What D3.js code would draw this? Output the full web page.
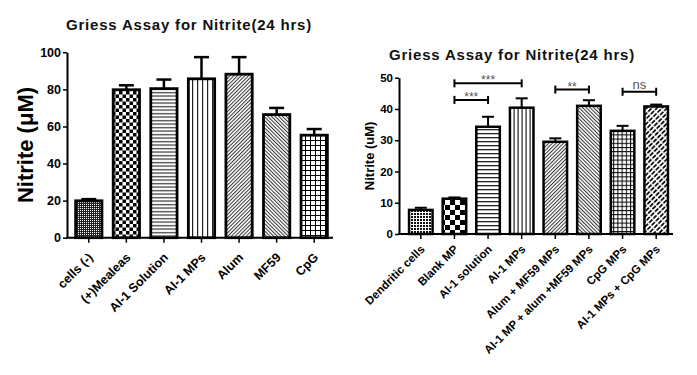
<!DOCTYPE html>
<html lang="en">
<head>
<meta charset="utf-8">
<title>griess</title>
<script src="https://cdn.jsdelivr.net/npm/d3@7"></script>
<style>
body { margin: 0; background: #fff; }
text { font-family: Arial, "Liberation Sans", sans-serif; }
</style>
</head>
<body>
<script>
// left panel
var leftCats = ["cells (-)", "(+)Mealeas", "AI-1 Solution", "AI-1 MPs", "Alum", "MF59", "CpG"];
var leftVals = [19.9, 79.8, 80.4, 85.7, 88.2, 66.4, 55.3];
var leftSem = [0.9, 2.4, 4.9, 11.7, 9.2, 3.6, 3.3];
var leftFills = ["dotsL", "checkL", "hlinesL", "vlinesL", "diagR", "diagL", "gridL"];
var leftTicks = [0, 20, 40, 60, 80, 100];

// right panel
var rightCats = ["Dendritic cells", "Blank MP", "AI-1 solution", "AI-1 MPs", "Alum + MF59 MPs",
                 "AI-1 MP + alum +MF59 MPs", "CpG MPs", "AI-1 MPs + CpG MPs"];
var rightVals = [7.7, 11.3, 34.3, 40.4, 29.5, 41.0, 33.0, 40.8];
var rightSem = [0.7, 0.4, 3.2, 3.0, 1.1, 1.8, 1.6, 0.6];
var rightFills = ["dotsR", "checkR", "hlinesR", "vlinesR", "diagR", "diagL", "gridR", "diagBold"];
var rightTicks = [0, 10, 20, 30, 40, 50];

// significance brackets (right panel)
var sigLabels = ["***", "***", "**", "ns"];
var sigFrom = [1, 1, 4, 6];
var sigTo = [2, 3, 5, 7];
var sigLevel = [42.9, 48.2, 46.2, 45.5];

var title = "Griess Assay for Nitrite(24 hrs)";

var width = 697, height = 375;
var svg = d3.select("body").append("svg")
    .attr("width", width)
    .attr("height", height);
var defs = svg.append("defs");

// ---- fill patterns ----
function pattern(id, w, h, rot) {
  var p = defs.append("pattern")
      .attr("id", id)
      .attr("patternUnits", "userSpaceOnUse")
      .attr("width", w).attr("height", h);
  if (rot) p.attr("patternTransform", "rotate(" + rot + ")");
  p.append("rect").attr("width", w).attr("height", h).attr("fill", "#fff");
  return p;
}
var p;
p = pattern("dotsL", 2, 2);
p.append("rect").attr("width", 2).attr("height", 2).attr("fill", "#222");
p.append("rect").attr("width", 1).attr("height", 1).attr("fill", "#fff");
p = pattern("dotsR", 3, 3);
p.append("rect").attr("width", 2).attr("height", 2).attr("fill", "#111");
p = pattern("checkL", 7, 7);
p.append("rect").attr("width", 3.5).attr("height", 3.5).attr("fill", "#000");
p.append("rect").attr("x", 3.5).attr("y", 3.5).attr("width", 3.5).attr("height", 3.5).attr("fill", "#000");
p = pattern("checkR", 10, 10);
p.append("rect").attr("width", 5).attr("height", 5).attr("fill", "#000");
p.append("rect").attr("x", 5).attr("y", 5).attr("width", 5).attr("height", 5).attr("fill", "#000");
p = pattern("hlinesL", 4, 3.5);
p.append("rect").attr("y", 1).attr("width", 4).attr("height", 1.2).attr("fill", "#333");
p = pattern("hlinesR", 4, 4);
p.append("rect").attr("y", 1).attr("width", 4).attr("height", 1.3).attr("fill", "#222");
p = pattern("vlinesL", 5, 4);
p.append("rect").attr("x", 2).attr("width", 1.2).attr("height", 4).attr("fill", "#222");
p = pattern("vlinesR", 4, 4);
p.append("rect").attr("x", 1.5).attr("width", 1.2).attr("height", 4).attr("fill", "#222");
p = pattern("diagR", 2.6, 4, 45);
p.append("rect").attr("width", 1).attr("height", 4).attr("fill", "#333");
p = pattern("diagL", 2.6, 4, -45);
p.append("rect").attr("width", 1).attr("height", 4).attr("fill", "#333");
p = pattern("gridL", 5, 5);
p.append("rect").attr("width", 5).attr("height", 1).attr("fill", "#000");
p.append("rect").attr("width", 1).attr("height", 5).attr("fill", "#000");
p = pattern("gridR", 4.2, 4.2);
p.append("rect").attr("width", 4.2).attr("height", 1).attr("fill", "#000");
p.append("rect").attr("width", 1).attr("height", 4.2).attr("fill", "#000");
p = pattern("diagBold", 3.6, 6, 45);
p.append("rect").attr("width", 1.8).attr("height", 4.6).attr("fill", "#111");

// ---- one panel ----
function drawPanel(cfg) {
  var g = svg.append("g");

  var x = d3.scaleBand().domain(cfg.cats).range([cfg.xStart, cfg.xEnd]).paddingInner(cfg.pad).paddingOuter(cfg.pad / 2);
  var y = d3.scaleLinear().domain([0, cfg.max]).range([cfg.yBottom, cfg.yTop]);

  // y axis
  var yAxis = g.append("g")
      .attr("transform", "translate(" + cfg.axisX + ",0)")
      .call(d3.axisLeft(y).tickValues(cfg.ticks).tickSize(4).tickPadding(2).tickSizeOuter(0));
  yAxis.select(".domain").attr("stroke-width", 2);
  yAxis.selectAll(".tick line").attr("stroke-width", 1.5);
  yAxis.selectAll("text")
      .attr("font-size", cfg.tickFont).attr("font-weight", "bold")
      .attr("font-family", "Arial, 'Liberation Sans', sans-serif");

  // x axis
  var xAxis = g.append("g")
      .attr("transform", "translate(0," + cfg.yBottom + ")")
      .call(d3.axisBottom(x).tickSize(5).tickSizeOuter(0));
  xAxis.select(".domain").remove();
  xAxis.selectAll(".tick line").attr("stroke-width", 1.5);
  xAxis.selectAll("text")
      .attr("font-size", cfg.catFont).attr("font-weight", "bold")
      .attr("font-family", "Arial, 'Liberation Sans', sans-serif")
      .attr("text-anchor", "end")
      .attr("x", cfg.lblX).attr("y", cfg.lblY).attr("dy", 0)
      .attr("transform", "rotate(-45)");
  g.append("line")
      .attr("x1", cfg.axisX - 1).attr("x2", cfg.xEnd)
      .attr("y1", cfg.yBottom).attr("y2", cfg.yBottom)
      .attr("stroke", "#000").attr("stroke-width", 2);

  // bars
  g.selectAll(".bar")
      .data(cfg.vals)
      .enter().append("rect")
      .attr("class", "bar")
      .attr("x", function(d, i) { return x(cfg.cats[i]); })
      .attr("y", function(d) { return y(d); })
      .attr("width", x.bandwidth())
      .attr("height", function(d) { return cfg.yBottom - y(d); })
      .attr("fill", function(d, i) { return "url(#" + cfg.fills[i] + ")"; })
      .attr("stroke", "#000")
      .attr("stroke-width", cfg.barStroke);

  // error bars (upper only)
  var eb = g.selectAll(".err")
      .data(cfg.vals)
      .enter().append("g")
      .attr("class", "err");
  eb.append("line")
      .attr("x1", function(d, i) { return x(cfg.cats[i]) + x.bandwidth() / 2; })
      .attr("x2", function(d, i) { return x(cfg.cats[i]) + x.bandwidth() / 2; })
      .attr("y1", function(d) { return y(d); })
      .attr("y2", function(d, i) { return y(d + cfg.sem[i]); })
      .attr("stroke", "#000").attr("stroke-width", cfg.errStroke);
  eb.append("line")
      .attr("x1", function(d, i) { return x(cfg.cats[i]) + x.bandwidth() / 2 - cfg.cap / 2; })
      .attr("x2", function(d, i) { return x(cfg.cats[i]) + x.bandwidth() / 2 + cfg.cap / 2; })
      .attr("y1", function(d, i) { return y(d + cfg.sem[i]); })
      .attr("y2", function(d, i) { return y(d + cfg.sem[i]); })
      .attr("stroke", "#000").attr("stroke-width", cfg.errStroke);

  // title
  g.append("text")
      .attr("x", cfg.titleX).attr("y", cfg.titleY)
      .attr("text-anchor", "middle")
      .attr("font-size", 15).attr("font-weight", "bold")
      .attr("letter-spacing", "0.8px")
      .attr("fill", "#111")
      .text(title);

  // y label
  g.append("text")
      .attr("transform", "translate(" + cfg.yLabX + "," + (cfg.yTop + cfg.yBottom) / 2 + ") rotate(-90)")
      .attr("text-anchor", "middle")
      .attr("font-size", cfg.yLabFont).attr("font-weight", "bold")
      .text(cfg.yLab);

  return { x: x, y: y, g: g };
}

drawPanel({
  cats: leftCats, vals: leftVals, sem: leftSem, fills: leftFills, ticks: leftTicks,
  max: 100, axisX: 67, xStart: 70, xEnd: 333, yTop: 52.3, yBottom: 237.7, pad: 0.3,
  tickFont: 12.5, catFont: 12.5, lblX: -11, lblY: 18,
  barStroke: 2.8, errStroke: 2.5, cap: 15,
  titleX: 189, titleY: 30, yLabX: 33, yLabFont: 22, yLab: "Nitrite (\u03BCM)"
});

var right = drawPanel({
  cats: rightCats, vals: rightVals, sem: rightSem, fills: rightFills, ticks: rightTicks,
  max: 50, axisX: 399, xStart: 404, xEnd: 673, yTop: 77.7, yBottom: 234, pad: 0.3,
  tickFont: 11.5, catFont: 11.5, lblX: -8, lblY: 14.5,
  barStroke: 2.5, errStroke: 2, cap: 12,
  titleX: 512, titleY: 60, yLabX: 374, yLabFont: 13, yLab: "Nitrite (uM)"
});

// significance brackets
var rx = right.x, ry = right.y;
function cx(i) { return rx(rightCats[i]) + rx.bandwidth() / 2; }
var sig = right.g.selectAll(".sig")
    .data(sigLabels)
    .enter().append("g")
    .attr("class", "sig");
sig.append("line")
    .attr("x1", function(d, i) { return cx(sigFrom[i]); })
    .attr("x2", function(d, i) { return cx(sigTo[i]); })
    .attr("y1", function(d, i) { return ry(sigLevel[i]); })
    .attr("y2", function(d, i) { return ry(sigLevel[i]); })
    .attr("stroke", "#000").attr("stroke-width", 2);
sig.append("line")
    .attr("x1", function(d, i) { return cx(sigFrom[i]); })
    .attr("x2", function(d, i) { return cx(sigFrom[i]); })
    .attr("y1", function(d, i) { return ry(sigLevel[i]) - 4; })
    .attr("y2", function(d, i) { return ry(sigLevel[i]) + 4; })
    .attr("stroke", "#000").attr("stroke-width", 2);
sig.append("line")
    .attr("x1", function(d, i) { return cx(sigTo[i]); })
    .attr("x2", function(d, i) { return cx(sigTo[i]); })
    .attr("y1", function(d, i) { return ry(sigLevel[i]) - 4; })
    .attr("y2", function(d, i) { return ry(sigLevel[i]) + 4; })
    .attr("stroke", "#000").attr("stroke-width", 2);
sig.append("text")
    .attr("x", function(d, i) { return (cx(sigFrom[i]) + cx(sigTo[i])) / 2; })
    .attr("y", function(d, i) { return ry(sigLevel[i]) + (d === "ns" ? -2.5 : 1); })
    .attr("text-anchor", "middle")
    .attr("font-size", function(d) { return d === "ns" ? 13 : 12; })
    .attr("fill", "#555")
    .text(function(d) { return d; });
</script>
</body>
</html>
